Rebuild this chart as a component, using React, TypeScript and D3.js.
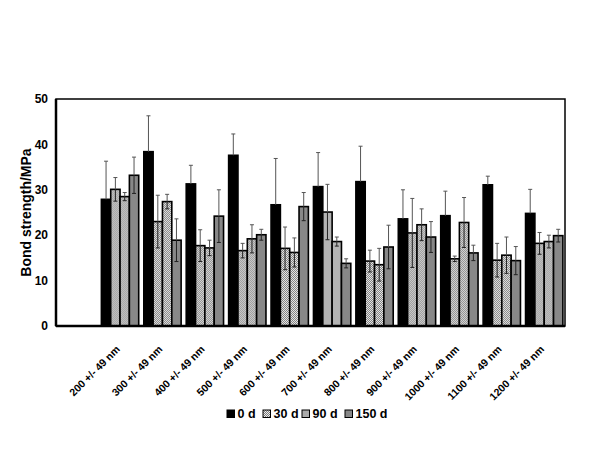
import React from "react";
import * as d3 from "d3";

const categories = [
  "200 +/- 49 nm", "300 +/- 49 nm", "400 +/- 49 nm", "500 +/- 49 nm",
  "600 +/- 49 nm", "700 +/- 49 nm", "800 +/- 49 nm", "900 +/- 49 nm",
  "1000 +/- 49 nm", "1100 +/- 49 nm", "1200 +/- 49 nm",
];
const seriesNames = ["0 d", "30 d", "90 d", "150 d"];
const d0 = [27.9, 38.4, 31.3, 37.6, 26.7, 30.7, 31.8, 23.6, 24.3, 31.1, 24.8];
const d30 = [30.1, 23.0, 17.7, 16.6, 17.1, 25.1, 14.3, 20.5, 14.8, 14.5, 18.2];
const d90 = [28.5, 27.4, 17.2, 19.2, 16.2, 18.6, 13.5, 22.3, 22.8, 15.6, 18.6];
const d150 = [33.2, 18.9, 24.2, 20.1, 26.3, 13.8, 17.4, 19.6, 16.1, 14.4, 19.9];
const e0 = [8.4, 7.9, 4.1, 4.7, 10.2, 7.5, 7.8, 6.4, 5.4, 1.9, 5.3];
const e30 = [2.6, 5.8, 3.5, 1.6, 4.7, 6.1, 2.4, 7.6, 0.6, 3.7, 2.4];
const e90 = [0.9, 1.6, 1.7, 3.1, 3.2, 1.0, 3.6, 3.5, 5.5, 4.0, 1.4];
const e150 = [4.0, 4.7, 5.8, 1.2, 3.1, 1.0, 4.8, 3.4, 1.7, 3.1, 1.4];
const yTicks = [0, 10, 20, 30, 40, 50];

const values = [d0, d30, d90, d150];
const errors = [e0, e30, e90, e150];
const fills = ["#000", "url(#checker)", "url(#checker)", "#888"];
const legendFills = ["#000", "url(#checker)", "#aaa", "#888"];

export default function App() {
  const left = 56, right = 565, top = 99, bottom = 326;
  const slots = ["", ...categories];
  const x = d3.scaleBand<string>().domain(slots).range([left, right]).padding(0);
  const y = d3.scaleLinear().domain([0, 50]).range([bottom, top]);
  const bw = x.bandwidth();
  const inner = d3
    .scaleBand<string>()
    .domain(seriesNames)
    .range([bw * 0.07, bw * 0.95])
    .padding(0);
  const font = "Arial, 'Liberation Sans', sans-serif";

  const legendX = [227, 263, 302, 345];

  return (
    <svg
      width={600}
      height={450}
      style={{ position: "absolute", left: 0, top: 0, background: "#fff" }}
      fontFamily={font}
    >
      <defs>
        <pattern id="checker" width={2} height={2} patternUnits="userSpaceOnUse">
          <rect width={2} height={2} fill="#eee" />
          <rect width={1} height={1} fill="#7a7a7a" />
          <rect x={1} y={1} width={1} height={1} fill="#7a7a7a" />
        </pattern>
      </defs>
      <rect x={0} y={0} width={600} height={450} fill="#fff" />

      {/* bars */}
      {categories.map((c, i) => (
        <g key={c} transform={`translate(${x(c)},0)`}>
          {seriesNames.map((s, k) => {
            const v = values[k][i];
            const e = errors[k][i];
            const bx = inner(s)!;
            const w = inner.bandwidth();
            const cx = bx + w / 2;
            return (
              <g key={s}>
                <rect
                  x={bx}
                  y={y(v)}
                  width={w}
                  height={bottom - y(v)}
                  fill={fills[k]}
                  stroke="#000"
                  strokeWidth={1.6}
                />
                <line x1={cx} x2={cx} y1={y(v)} y2={y(v + e)} stroke="#555" strokeWidth={1} />
                <line x1={cx - 2} x2={cx + 2} y1={y(v + e)} y2={y(v + e)} stroke="#555" strokeWidth={1} />
                {k > 0 && (
                  <>
                    <line x1={cx} x2={cx} y1={y(v)} y2={y(v - e)} stroke="#222" strokeWidth={1} />
                    <line x1={cx - 2} x2={cx + 2} y1={y(v - e)} y2={y(v - e)} stroke="#222" strokeWidth={1} />
                  </>
                )}
              </g>
            );
          })}
        </g>
      ))}

      {/* frame */}
      <rect x={left} y={top} width={right - left} height={bottom - top} fill="none" stroke="#000" strokeWidth={1.5} />
      <line x1={left} x2={left} y1={top} y2={bottom} stroke="#000" strokeWidth={2.5} />
      <line x1={left} x2={right} y1={bottom} y2={bottom} stroke="#000" strokeWidth={2.5} />

      {/* y ticks */}
      {yTicks.map((t) => (
        <text
          key={t}
          x={48}
          y={y(t)}
          dy="0.35em"
          textAnchor="end"
          fontSize={12}
          fontWeight="bold"
        >
          {t}
        </text>
      ))}
      <text
        transform={`translate(31,${(top + bottom) / 2}) rotate(-90)`}
        textAnchor="middle"
        fontSize={14}
        fontWeight="bold"
      >
        Bond strength/MPa
      </text>

      {/* x labels */}
      {categories.map((c) => {
        const cx = x(c)! + bw / 2;
        return (
          <text
            key={c}
            transform={`translate(${cx + 1},${bottom + 24}) rotate(-45)`}
            textAnchor="end"
            fontSize={10.5}
            fontWeight="bold"
          >
            {c}
          </text>
        );
      })}

      {/* legend */}
      {seriesNames.map((s, k) => (
        <g key={s} transform={`translate(${legendX[k]},410)`}>
          <rect x={0} y={0} width={7.5} height={7.5} fill={legendFills[k]} stroke="#000" strokeWidth={1} />
          <text x={10.5} y={8} fontSize={12.5} fontWeight="bold">
            {s}
          </text>
        </g>
      ))}
    </svg>
  );
}
